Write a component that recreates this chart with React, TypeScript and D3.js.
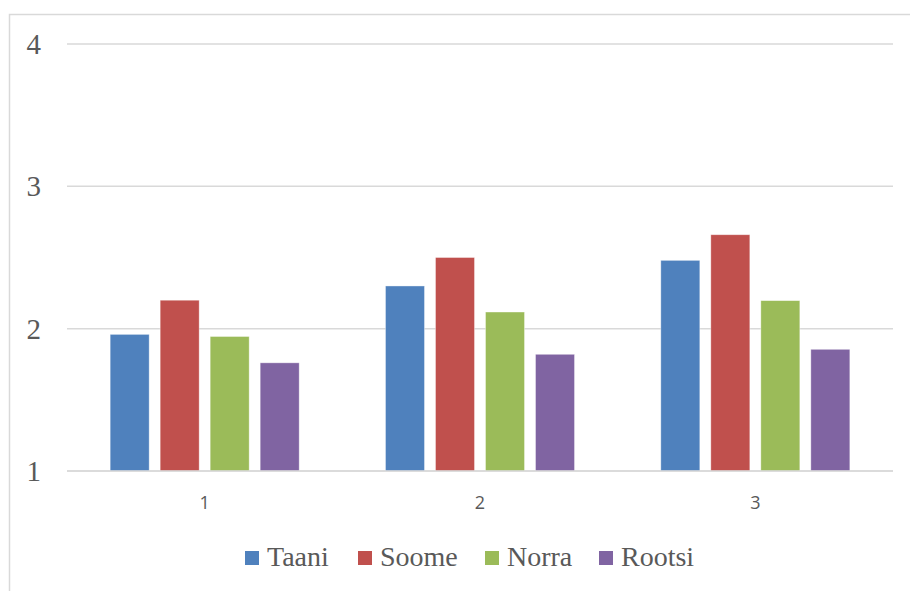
import React from "react";
import * as d3 from "d3";

const categories = ["1", "2", "3"];
const seriesNames = ["Taani", "Soome", "Norra", "Rootsi"];
const seriesColors = ["#4F81BD", "#C0504D", "#9BBB59", "#8064A2"];
const taani = [1.96, 2.3, 2.48];
const soome = [2.2, 2.5, 2.66];
const norra = [1.945, 2.117, 2.197];
const rootsi = [1.76, 1.82, 1.855];
const yTicks = [1, 2, 3, 4];

const seriesValues = [taani, soome, norra, rootsi];

const W = 910;
const H = 591;
const left = 67;
const right = 893;
const top = 44;
const bottom = 471;

const serif = "Liberation Serif, Times New Roman, serif";
const sans = "Open Sans, Liberation Sans, sans-serif";

export default function App() {
  const x0 = d3.scaleBand<string>().domain(categories).range([left, right]).padding(0);
  const x1 = d3
    .scaleBand<string>()
    .domain(seriesNames)
    .range([0, x0.bandwidth()])
    .paddingInner(0.22)
    .paddingOuter(0.863);
  const y = d3.scaleLinear().domain([1, 4]).range([bottom, top]);

  const legendX = [245, 358, 485, 599];

  return (
    <svg
      width={W}
      height={H}
      style={{ position: "absolute", left: 0, top: 0, background: "#fff" }}
    >
      <rect x={0} y={0} width={W} height={H} fill="#fff" />
      <rect x={9.5} y={14.5} width={W + 20} height={H + 20} fill="none" stroke="#D9D9D9" strokeWidth={1.5} />
      {yTicks.map((t) => (
        <g key={t}>
          <line x1={left} x2={right} y1={y(t)} y2={y(t)} stroke="#D9D9D9" strokeWidth={1.5} />
          <text
            x={41}
            y={y(t)}
            dy="0.35em"
            textAnchor="end"
            style={{ fontFamily: serif, fontSize: "29px" }}
            fill="#595959"
          >
            {t}
          </text>
        </g>
      ))}
      {categories.map((c, ci) => (
        <g key={c}>
          {seriesNames.map((s, si) => {
            const v = seriesValues[si][ci];
            return (
              <rect
                key={s}
                x={(x0(c) as number) + (x1(s) as number)}
                y={y(v)}
                width={x1.bandwidth()}
                height={y(1) - y(v)}
                fill={seriesColors[si]}
                stroke="#ffffff"
                strokeOpacity={0.5}
                strokeWidth={0.75}
              />
            );
          })}
          <text
            x={(x0(c) as number) + x0.bandwidth() / 2}
            y={503}
            dy="0.35em"
            textAnchor="middle"
            style={{ fontFamily: sans, fontSize: "18px" }}
            fill="#595959"
          >
            {c}
          </text>
        </g>
      ))}
      <line x1={left} x2={right} y1={bottom} y2={bottom} stroke="#D9D9D9" strokeWidth={1.5} />
      {seriesNames.map((s, i) => (
        <g key={s}>
          <rect x={legendX[i]} y={551} width={14} height={14} fill={seriesColors[i]} />
          <text
            x={legendX[i] + 22}
            y={566}
            style={{ fontFamily: serif, fontSize: "28px" }}
            fill="#595959"
          >
            {s}
          </text>
        </g>
      ))}
    </svg>
  );
}
